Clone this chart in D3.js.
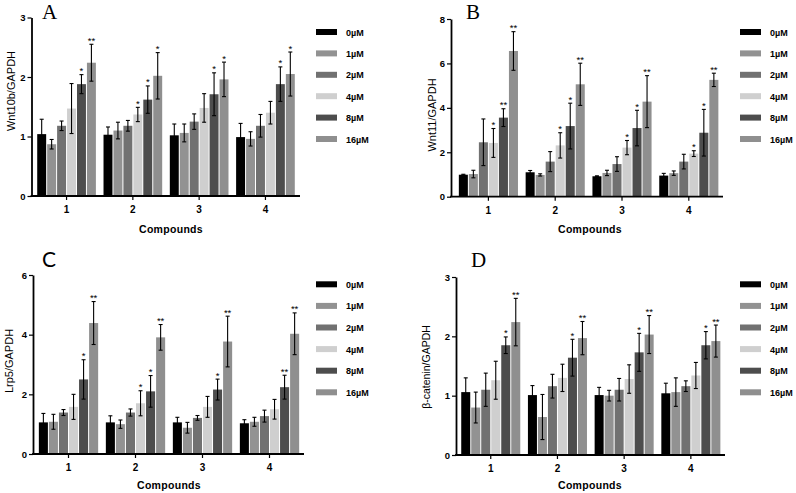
<!DOCTYPE html>
<html><head><meta charset="utf-8">
<script src="https://cdn.jsdelivr.net/npm/d3@7"></script>
<style>body{margin:0;background:#fff}svg{display:block}</style>
</head><body>
<svg id="chart" width="796" height="493"></svg>
<script>
// ---------- data ----------
const compounds = ["1", "2", "3", "4"];
const concentrations = ["0\u00B5M", "1\u00B5M", "2\u00B5M", "4\u00B5M", "8\u00B5M", "16\u00B5M"];
const barColors = ["#000000", "#929292", "#717171", "#cfcfcf", "#4d4d4d", "#8f8f8f"];

// Panel A: Wnt10b/GAPDH
const wnt10bMeans = [
  [1.04, 0.87, 1.18, 1.47, 1.88, 2.24],
  [1.03, 1.10, 1.18, 1.37, 1.62, 2.02],
  [1.02, 1.06, 1.25, 1.48, 1.71, 1.96],
  [0.99, 0.96, 1.18, 1.40, 1.88, 2.05]];
const wnt10bErrors = [
  [0.25, 0.08, 0.08, 0.42, 0.16, 0.31],
  [0.13, 0.14, 0.09, 0.12, 0.23, 0.39],
  [0.19, 0.15, 0.13, 0.24, 0.36, 0.29],
  [0.23, 0.12, 0.19, 0.19, 0.29, 0.37]];
const wnt10bStars = [
  ["", "", "", "", "*", "**"],
  ["", "", "", "*", "*", "*"],
  ["", "", "", "", "*", "*"],
  ["", "", "", "", "*", "*"]];
const wnt10bTicks = [0, 1, 2, 3];

// Panel B: Wnt11/GAPDH
const wnt11Means = [
  [0.99, 1.02, 2.45, 2.42, 3.56, 6.56],
  [1.10, 0.98, 1.58, 2.31, 3.18, 5.06],
  [0.92, 1.07, 1.47, 2.21, 3.09, 4.28],
  [0.95, 1.06, 1.58, 1.94, 2.88, 5.26]];
const wnt11Errors = [
  [0.02, 0.17, 1.05, 0.65, 0.40, 0.87],
  [0.08, 0.05, 0.45, 0.57, 1.03, 0.95],
  [0.02, 0.12, 0.33, 0.32, 0.80, 1.17],
  [0.10, 0.10, 0.33, 0.13, 1.05, 0.30]];
const wnt11Stars = [
  ["", "", "", "*", "**", "**"],
  ["", "", "", "*", "*", "**"],
  ["", "", "", "*", "*", "**"],
  ["", "", "", "*", "*", "**"]];
const wnt11Ticks = [0, 2, 4, 6, 8];

// Panel C: Lrp5/GAPDH
const lrp5Means = [
  [1.06, 1.08, 1.39, 1.58, 2.50, 4.39],
  [1.06, 1.00, 1.39, 1.70, 2.10, 3.91],
  [1.06, 0.88, 1.21, 1.58, 2.16, 3.77],
  [1.03, 1.08, 1.27, 1.50, 2.24, 4.03]];
const lrp5Errors = [
  [0.30, 0.25, 0.10, 0.42, 0.66, 0.72],
  [0.22, 0.14, 0.12, 0.42, 0.53, 0.43],
  [0.17, 0.18, 0.08, 0.35, 0.35, 0.85],
  [0.12, 0.15, 0.20, 0.33, 0.40, 0.70]];
const lrp5Stars = [
  ["", "", "", "", "*", "**"],
  ["", "", "", "*", "*", "**"],
  ["", "", "", "", "*", "**"],
  ["", "", "", "", "**", "**"]];
const lrp5Ticks = [0, 2, 4, 6];

// Panel D: β-catenin/GAPDH
const catMeans = [
  [1.06, 0.80, 1.10, 1.26, 1.85, 2.24],
  [1.01, 0.64, 1.16, 1.30, 1.64, 1.97],
  [1.01, 1.00, 1.10, 1.28, 1.73, 2.03],
  [1.04, 1.06, 1.16, 1.34, 1.85, 1.92]];
const catErrors = [
  [0.24, 0.26, 0.28, 0.32, 0.14, 0.40],
  [0.16, 0.38, 0.20, 0.23, 0.31, 0.28],
  [0.13, 0.09, 0.19, 0.24, 0.32, 0.32],
  [0.17, 0.24, 0.09, 0.22, 0.23, 0.27]];
const catStars = [
  ["", "", "", "", "*", "**"],
  ["", "", "", "", "*", "**"],
  ["", "", "", "", "*", "**"],
  ["", "", "", "", "*", "**"]];
const catTicks = [0, 1, 2, 3];

const xTitle = "Compounds";

// ---------- layout ----------
const panels = [
  {letter: "A", letterFont: "'Liberation Serif', serif", lx: 42, ly: 19,
   yLabel: "Wnt10b/GAPDH", ylx: 11, yly: 91, ylSize: 11,
   means: wnt10bMeans, errs: wnt10bErrors, stars: wnt10bStars, ticks: wnt10bTicks,
   ax: 31.5, axEnd: 300, x0: 33.4, x1: 298.6, y0: 196, yTop: 17.5,
   titleX: 171, titleY: 233, legX: 316, legTextX: 346, legY: 32, legStep: 21.4},
  {letter: "B", letterFont: "'Liberation Serif', serif", lx: 466, ly: 19,
   yLabel: "Wnt11/GAPDH", ylx: 432, yly: 115, ylSize: 11,
   means: wnt11Means, errs: wnt11Errors, stars: wnt11Stars, ticks: wnt11Ticks,
   ax: 451, axEnd: 723, x0: 455, x1: 722.2, y0: 196.7, yTop: 19,
   titleX: 590, titleY: 233, legX: 740, legTextX: 770, legY: 32, legStep: 21.4},
  {letter: "C", letterFont: "Lato, sans-serif", lx: 42, ly: 267,
   yLabel: "Lrp5/GAPDH", ylx: 9, yly: 361, ylSize: 11,
   means: lrp5Means, errs: lrp5Errors, stars: lrp5Stars, ticks: lrp5Ticks,
   ax: 33, axEnd: 304, x0: 35, x1: 303, y0: 454, yTop: 275,
   titleX: 169, titleY: 489, legX: 316, legTextX: 346, legY: 284.3, legStep: 21.6},
  {letter: "D", letterFont: "'Liberation Serif', serif", lx: 471, ly: 267,
   yLabel: "\u03B2-catenin/GAPDH", ylx: 426, yly: 367, ylSize: 10.5,
   means: catMeans, errs: catErrors, stars: catStars, ticks: catTicks,
   ax: 456, axEnd: 725, x0: 457.4, x1: 724.2, y0: 455, yTop: 277,
   titleX: 590, titleY: 489, legX: 740, legTextX: 770, legY: 284.3, legStep: 21.6}
];

const svg = d3.select("#chart");
const sans = "'Liberation Sans', Arial, sans-serif";

panels.forEach(p => {
  const g = svg.append("g");
  const ymax = p.ticks[p.ticks.length - 1];
  const x = d3.scaleBand().domain(compounds).range([p.x0, p.x1]).paddingInner(0.1).paddingOuter(0.05);
  const xi = d3.scaleBand().domain(concentrations).range([0, x.bandwidth()]);
  const y = d3.scaleLinear().domain([0, ymax]).range([p.y0, p.yTop]);
  const bw = xi.bandwidth() - 1;

  // bars
  compounds.forEach((c, gi) => {
    concentrations.forEach((k, si) => {
      const v = p.means[gi][si], e = p.errs[gi][si];
      const bx = x(c) + xi(k) + 0.5;
      g.append("rect").attr("x", bx).attr("y", y(v)).attr("width", bw)
        .attr("height", y(0) - y(v)).attr("fill", barColors[si]);
      const cx = bx + bw / 2;
      const eg = g.append("g").attr("stroke", "#000").attr("stroke-width", 1.1);
      eg.append("line").attr("x1", cx).attr("x2", cx).attr("y1", y(v + e)).attr("y2", y(Math.max(0, v - e)));
      eg.append("line").attr("x1", cx - 2).attr("x2", cx + 2).attr("y1", y(v + e)).attr("y2", y(v + e));
      eg.append("line").attr("x1", cx - 2).attr("x2", cx + 2).attr("y1", y(v - e)).attr("y2", y(v - e));
      const s = p.stars[gi][si];
      if (s) {
        g.append("text").attr("x", cx).attr("y", y(v + e) - 0.5)
          .attr("text-anchor", "middle").attr("font-family", sans)
          .attr("font-size", 9.5).attr("fill", "#000").text(s);
      }
    });
  });

  // y axis
  const yAxis = g.append("g").attr("transform", `translate(${p.ax},0)`)
    .call(d3.axisLeft(y).tickValues(p.ticks).tickSize(4).tickSizeOuter(0).tickPadding(2).tickFormat(d3.format("d")));
  yAxis.select(".domain").attr("stroke-width", 1.8);
  yAxis.selectAll(".tick line").attr("stroke-width", 1.2);
  yAxis.selectAll("text").attr("font-family", sans).attr("font-size", 9.5).attr("font-weight", "bold");

  // x axis
  const xAxis = g.append("g").attr("transform", `translate(0,${p.y0})`)
    .call(d3.axisBottom(x).tickSize(4).tickSizeOuter(0).tickPadding(6));
  xAxis.select(".domain").remove();
  xAxis.selectAll(".tick line").attr("stroke-width", 1.2);
  xAxis.selectAll("text").attr("font-family", sans).attr("font-size", 10).attr("font-weight", "bold");
  g.append("line").attr("x1", p.ax - 0.9).attr("x2", p.axEnd).attr("y1", p.y0).attr("y2", p.y0)
    .attr("stroke", "#000").attr("stroke-width", 1.8);

  // titles
  g.append("text").attr("x", p.titleX).attr("y", p.titleY).attr("text-anchor", "middle")
    .attr("font-family", sans).attr("font-size", 10.5).attr("font-weight", "bold")
    .attr("letter-spacing", 0.3).text(xTitle);
  g.append("text").attr("transform", `translate(${p.ylx + 4},${p.yly}) rotate(-90)`)
    .attr("text-anchor", "middle").attr("font-family", sans).attr("font-size", p.ylSize)
    .text(p.yLabel);
  g.append("text").attr("x", p.lx).attr("y", p.ly).attr("font-family", p.letterFont)
    .attr("font-size", 21).text(p.letter);

  // legend
  concentrations.forEach((k, si) => {
    const cy = p.legY + si * p.legStep;
    g.append("rect").attr("x", p.legX).attr("y", cy - 3).attr("width", 21).attr("height", 6)
      .attr("fill", barColors[si]);
    g.append("text").attr("x", p.legTextX).attr("y", cy + 3.5).attr("font-family", sans)
      .attr("font-size", 9).attr("font-weight", "bold").text(k);
  });
});
</script>
</body></html>
